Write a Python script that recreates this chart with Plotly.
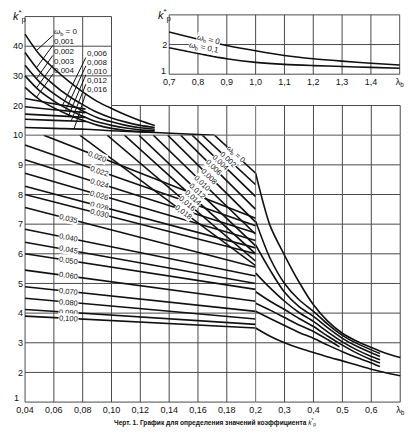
import math
import numpy as np
import plotly.graph_objects as go

W, H = 419, 435

# ---------------- data ----------------
# inset: lambda_b from 0.7 to 1.5
lam_ins = [0.7, 0.8, 0.9, 1.0, 1.1, 1.2, 1.3, 1.4, 1.5]
k_ins_w0 = [2.42, 2.18, 1.97, 1.79, 1.63, 1.52, 1.44, 1.37, 1.31]
k_ins_w01 = [1.89, 1.70, 1.52, 1.40, 1.33, 1.29, 1.26, 1.23, 1.20]

# k_p* > 10, curves running out to lambda_b ~ 0.13
lam_top = [0.04, 0.05, 0.06, 0.07, 0.08, 0.09, 0.10, 0.11, 0.12, 0.13]
w_top = ["<i>ω</i><sub>b</sub> = 0", "0,001", "0,002", "0,003", "0,004"]
k_top = [
    [44.1, 37.2, 32.5, 28.3, 24.6, 21.4, 19.0, 16.8, 14.9, 13.3],
    [37.9, 31.5, 27.0, 23.3, 20.3, 17.7, 15.8, 14.4, 13.3, 12.6],
    [33.6, 28.0, 24.0, 20.8, 18.2, 16.0, 14.5, 13.3, 12.5, 12.0],
    [30.0, 25.0, 21.5, 18.7, 16.4, 14.5, 13.3, 12.4, 11.8, 11.5],
    [26.1, 22.0, 19.2, 16.9, 15.0, 13.4, 12.3, 11.6, 11.2, 11.0],
]
lab_top_k = [44.9, 41.6, 38.2, 34.9, 31.9]

# k_p* > 10, short flat curves
lam_mid = [0.04, 0.06, 0.082]
w_mid = ["0,006", "0,008", "0,010", "0,012"]
k_mid = [
    [22.4, 20.6, 18.8],
    [19.6, 18.6, 17.6],
    [17.1, 16.6, 16.0],
    [15.4, 15.0, 14.6],
]
lam_016 = [0.04, 0.06, 0.082, 0.10, 0.13, 0.1715]
k_016 = [12.6, 12.3, 12.0, 11.5, 10.9, 10.0]
lab_mid_k = [37.4, 34.6, 31.6, 28.4, 25.3]
tip_mid_lam = [0.066, 0.068, 0.070, 0.072, 0.074]

# k_p* < 10, straight lines ending at lambda_b = 0.2
w_low = ["<i>ω</i><sub>b</sub> = 0", "0,002", "0,004", "0,006", "0,008", "0,010",
         "0,012", "0,014", "0,016", "0,018", "0,020", "0,022", "0,024", "0,026",
         "0,028", "0,030", "0,035", "0,040", "0,045", "0,050", "0,060", "0,070",
         "0,080", "0,090", "0,100"]
lam_low0 = [0.1715, 0.163, 0.156, 0.148, 0.139, 0.129, 0.119, 0.109, 0.097, 0.078,
            0.053, 0.04, 0.04, 0.04, 0.04, 0.04, 0.04, 0.04, 0.04, 0.04, 0.04,
            0.04, 0.04, 0.04, 0.04]
k_low0 = [10, 10, 10, 10, 10, 10, 10, 10, 10, 10, 10, 9.67, 9.17, 8.72, 8.28,
          8.0, 7.56, 6.83, 6.39, 6.0, 5.45, 4.89, 4.5, 4.12, 3.9]
k_low1 = [8.72, 8.33, 7.93, 7.50, 7.07, 6.66, 6.27, 6.0, 5.75, 5.6, 7.2, 6.95,
          6.7, 6.45, 6.2, 6.0, 5.55, 5.25, 5.0, 4.8, 4.4, 4.06, 3.8, 3.62, 3.5]
lab_lam_low = [0.1858, 0.181, 0.1757, 0.171, 0.1678, 0.1633, 0.16, 0.1566, 0.1527,
               0.1503, 0.09, 0.092, 0.092, 0.092, 0.092, 0.092, 0.07, 0.07, 0.07,
               0.07, 0.07, 0.07, 0.07, 0.07, 0.07]

# lambda_b from 0.2 to 0.7
lam_r_long = [0.2, 0.25, 0.3, 0.35, 0.4, 0.45, 0.5, 0.55, 0.6, 0.65, 0.7]
k_r_long = [
    [8.72, 6.95, 5.95, 5.05, 4.28, 3.72, 3.32, 3.05, 2.84, 2.65, 2.5],
    [3.5, 3.22, 3.0, 2.82, 2.67, 2.52, 2.39, 2.25, 2.11, 1.99, 1.89],
]
lam_r_mid = [0.2, 0.25, 0.3, 0.35, 0.4, 0.45, 0.5, 0.55, 0.6, 0.63]
k_r_mid = [
    [7.1, 5.85, 5.0, 4.45, 4.06, 3.62, 3.25, 2.98, 2.76, 2.64],
    [6.3, 5.45, 4.7, 4.22, 3.89, 3.5, 3.15, 2.88, 2.66, 2.54],
    [5.35, 4.85, 4.4, 4.02, 3.72, 3.36, 3.03, 2.76, 2.54, 2.43],
    [4.72, 4.4, 4.12, 3.82, 3.55, 3.22, 2.92, 2.65, 2.43, 2.32],
    [4.06, 3.82, 3.58, 3.35, 3.15, 2.92, 2.7, 2.5, 2.32, 2.2],
]
lam_r_short = [0.2, 0.25, 0.3, 0.35, 0.4, 0.45, 0.49]
k_r_short = [4.33, 4.1, 3.85, 3.6, 3.38, 3.1, 2.86]

# ticks
xt_left = [0.04, 0.06, 0.08, 0.10, 0.12, 0.14, 0.16, 0.18]
xt_right = [0.2, 0.3, 0.4, 0.5, 0.6, 0.7]
yt_low = [1, 2, 3, 4, 5, 6, 7, 8, 9, 10]
yt_up = [20, 30, 40]
xt_ins = [0.7, 0.8, 0.9, 1.0, 1.1, 1.2, 1.3, 1.4, 1.5]

# ---------------- layout helpers ----------------
PXL, PXR, PYL, PYU = 1480.0, 297.0, 30.0, 3.0   # pixels per unit


def dx(px):
    return px / W


def dy(py):
    return 1 - py / H


def comma(v, nd):
    return f"{v:.{nd}f}".replace(".", ",")


FONT = "Liberation Sans, Arial, sans-serif"
LAB = "<i>ω</i><sub>b</sub>"
INK = "#111111"
GRID = "#4a4a4a"

fig = go.Figure()


def grid(xref, yref, xs, ylo, yhi, ys, xlo, xhi):
    gx, gy = [], []
    for v in xs:
        gx += [v, v, None]
        gy += [ylo, yhi, None]
    for v in ys:
        gx += [xlo, xhi, None]
        gy += [v, v, None]
    fig.add_trace(go.Scatter(x=gx, y=gy, mode="lines", xaxis=xref, yaxis=yref,
                             line=dict(color=GRID, width=1), hoverinfo="skip",
                             showlegend=False))


grid("x", "y", xt_left + [0.2], 1, 10, yt_low, 0.04, 0.2)
grid("x2", "y", xt_right, 1, 10, yt_low, 0.2, 0.7)
grid("x", "y2", xt_left + [0.2], 10, 20, [10], 0.04, 0.2)
grid("x", "y2", [0.04, 0.06, 0.08, 0.10], 20, 50, [30, 40, 50], 0.04, 0.10)
grid("x", "y2", [], 0, 0, [20], 0.10, 0.2)
grid("x2", "y2", xt_right, 10, 20, [10, 20], 0.2, 0.7)
grid("x3", "y3", xt_ins, 1, 3, [1, 2, 3], 0.7, 1.5)


def curve(xs, ys, xref, yref, smooth=True, width=1.6):
    fig.add_trace(go.Scatter(
        x=xs, y=ys, mode="lines", xaxis=xref, yaxis=yref,
        line=dict(color=INK, width=width, shape="spline" if smooth else "linear",
                  smoothing=0.8),
        hoverinfo="skip", showlegend=False))


ann = []


def label(text, x, y, xref, yref, angle=0, size=8, xanchor="center", bg=True):
    ann.append(dict(text=text, x=x, y=y, xref=xref, yref=yref, showarrow=False,
                    textangle=angle, xanchor=xanchor, yanchor="middle",
                    font=dict(family=FONT, size=size, color=INK),
                    bgcolor="white" if bg else None, borderpad=0))


# inset
curve(lam_ins, k_ins_w0, "x3", "y3")
curve(lam_ins, k_ins_w01, "x3", "y3")
label(LAB + " = 0", 0.835, float(np.interp(0.835, lam_ins, k_ins_w0)) + 0.05,
      "x3", "y3", angle=13)
label(LAB + " = 0,1", 0.82, 1.9, "x3", "y3", angle=11)

# upper part
for name, ks, lk in zip(w_top, k_top, lab_top_k):
    curve(lam_top, ks, "x", "y2")
    tip = float(np.interp(0.048, lam_top, ks))
    curve([0.0593, 0.048], [lk - 1.3, tip], "x", "y2", smooth=False, width=1)
    label(name, 0.0593, lk, "x", "y2", xanchor="left", bg=False)

mid_lams = [lam_mid] * 4 + [lam_016]
mid_ks = k_mid + [k_016]
for name, lams, ks, lk, tl in zip(w_mid + ["0,016"], mid_lams, mid_ks,
                                  lab_mid_k, tip_mid_lam):
    curve(lams, ks, "x", "y2")
    tip = float(np.interp(tl, lams, ks))
    curve([0.0822, tl], [lk - 1.2, tip], "x", "y2", smooth=False, width=1)
    label(name, 0.0822, lk, "x", "y2", xanchor="left", bg=False)

# lower left: straight lines up to 0.2
for name, l0, k0, k1, ll in zip(w_low, lam_low0, k_low0, k_low1, lab_lam_low):
    curve([l0, 0.2], [k0, k1], "x", "y", smooth=False)
    ky = float(np.interp(ll, [l0, 0.2], [k0, k1]))
    slope = (k0 - k1) / (0.2 - l0)
    ang = math.degrees(math.atan(slope * PYL / PXL))
    label(name, ll, ky, "x", "y", angle=ang, size=7.5)

# lower right
for ks in k_r_long:
    curve(lam_r_long, ks, "x2", "y")
for ks in k_r_mid:
    curve(lam_r_mid, ks, "x2", "y")
curve(lam_r_short, k_r_short, "x2", "y")

# axis titles, loose "1" labels and caption
KP = "<i>k</i><sup>*</sup><sub>p</sub>"


def paper_text(text, px, py, size, xanchor="center", yanchor="middle"):
    ann.append(dict(text=text, x=dx(px), y=dy(py), xref="paper", yref="paper",
                    xanchor=xanchor, yanchor=yanchor, showarrow=False,
                    font=dict(family=FONT, size=size, color=INK)))


paper_text(KP, 3, 1, 11, "left", "top")
paper_text(KP, 152, 0, 11, "left", "top")
paper_text("1", 9, 398, 9)
paper_text("1", 160, 67, 9)
paper_text("<b>Черт. 1. График для определения значений коэффициента</b> " + KP,
           213, 422, 6.6)

tick_font = dict(family=FONT, size=9, color=INK)
LB = "λ<sub>b</sub>"
ax_common = dict(showgrid=False, zeroline=False, showline=False, ticks="",
                 tickfont=tick_font, fixedrange=True)

fig.update_layout(
    width=W, height=H,
    margin=dict(l=0, r=0, t=0, b=0),
    paper_bgcolor="white", plot_bgcolor="rgba(0,0,0,0)",
    showlegend=False,
    annotations=ann,
    xaxis=dict(ax_common, domain=[dx(16.5), dx(254.3)], range=[0.04 - 1 / PXL, 0.2],
               anchor="y", tickvals=xt_left,
               ticktext=[comma(v, 2) for v in xt_left]),
    xaxis2=dict(ax_common, domain=[dx(254.3), dx(403.8)],
                range=[0.2, 0.7 + 1 / PXR], anchor="y", tickvals=xt_right,
                ticktext=[comma(v, 1) for v in xt_right[:-1]] + [LB]),
    yaxis=dict(ax_common, domain=[dy(402.7), dy(131.7)], range=[1 - 1 / PYL, 10],
               anchor="x", tickvals=yt_low[1:],
               ticktext=[str(v) for v in yt_low[1:]]),
    yaxis2=dict(ax_common, domain=[dy(131.7), dy(10.7)], range=[10, 50 + 1 / PYU],
                anchor="x", tickvals=yt_up, ticktext=[str(v) for v in yt_up]),
    xaxis3=dict(ax_common, domain=[dx(164.5), dx(403.3)],
                range=[0.7 - 1 / 296, 1.5 + 1 / 296], anchor="y3", tickvals=xt_ins,
                ticktext=[comma(v, 1) for v in xt_ins[:-1]] + [LB]),
    yaxis3=dict(ax_common, domain=[dy(71), dy(9)], range=[1 - 1 / 30, 3 + 1 / 30],
                anchor="x3", tickvals=[2], ticktext=["2"]),
)

# page margin off so the figure sits at the window's top-left corner
fig.write_html("out.html", config={"displayModeBar": False},
               post_script="document.body.style.margin='0px';")
